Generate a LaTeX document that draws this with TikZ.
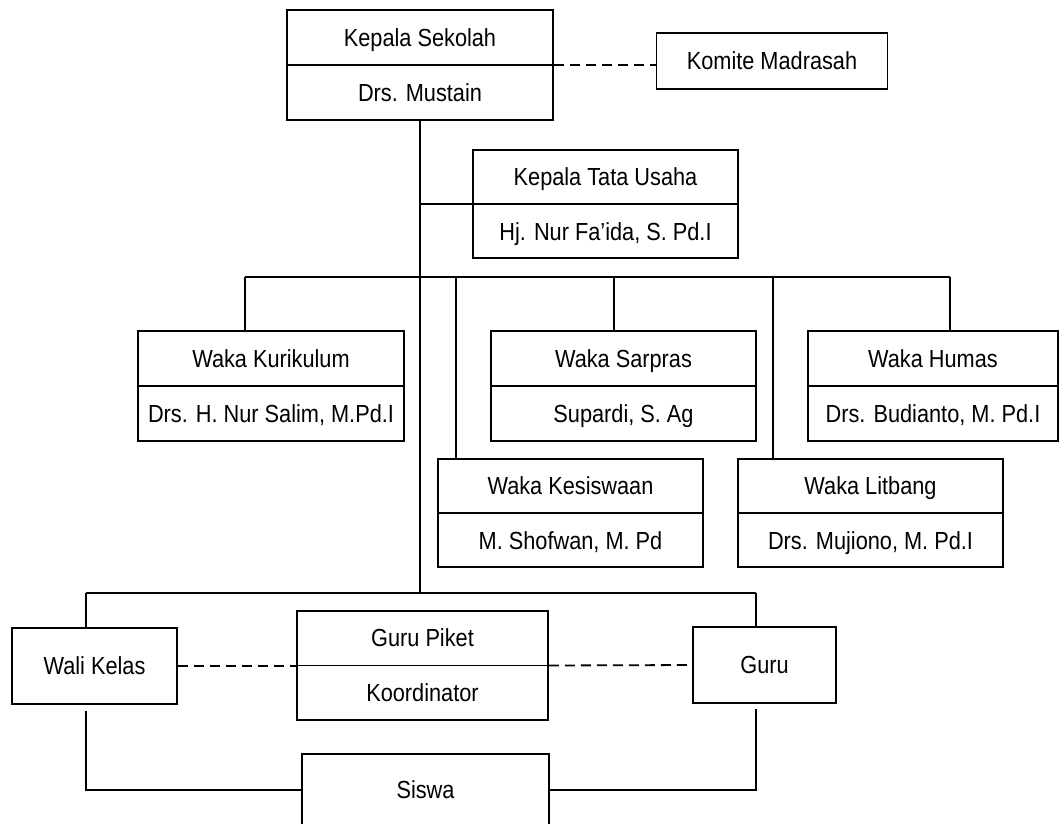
\documentclass[tikz,border=0pt]{standalone}
\usepackage{fontspec}
\setmainfont{Liberation Sans}[FakeStretch=0.88]
\usetikzlibrary{positioning}

\begin{document}
\begin{tikzpicture}[
  x=1pt, y=-1pt,
  line width=1.8pt,
  font=\fontsize{24.7}{55}\selectfont,
  unit/.style={rectangle, draw, align=center, minimum height=76pt, inner sep=0pt},
  post/.style={rectangle, draw, align=center, minimum height=110pt, inner sep=0pt,
    text height=72.8pt, text depth=0pt,
    path picture={\draw (path picture bounding box.west) -- (path picture bounding box.east);}},
  relation/.style={draw, dash pattern=on 10pt off 6pt},
]
\useasboundingbox (0,0) rectangle (1061,824);

\node[post, minimum width=266pt] (kepsek) at (420,65) {Kepala Sekolah\\Drs. Mustain};
\node[unit, minimum width=231pt, minimum height=56pt] (komite) at (772,61) {Komite Madrasah};
\node[post, minimum width=265pt, minimum height=108pt] (tu) at (605.5,204) {Kepala Tata Usaha\\Hj. Nur Fa'ida, S. Pd.I};
\node[post, minimum width=266pt] (kurikulum) at (271,386) {Waka Kurikulum\\Drs. H. Nur Salim, M.Pd.I};
\node[post, minimum width=265pt] (sarpras) at (623.5,386) {Waka Sarpras\\Supardi, S. Ag};
\node[post, minimum width=250pt] (humas) at (933,386) {Waka Humas\\Drs. Budianto, M. Pd.I};
\node[post, minimum width=265pt, minimum height=108pt] (kesiswaan) at (570.5,513) {Waka Kesiswaan\\M. Shofwan, M. Pd};
\node[post, minimum width=265pt, minimum height=108pt] (litbang) at (870.5,513) {Waka Litbang\\Drs. Mujiono, M. Pd.I};
\node[unit, minimum width=165pt] (walikelas) at (94.5,666) {Wali Kelas};
\node[post, minimum width=251pt, minimum height=109pt] (piket) at (422.5,665.5) {Guru Piket\\Koordinator};
\node[unit, minimum width=143pt] (guru) at (764.5,665) {Guru};
\node[unit, minimum width=247pt, minimum height=72pt] (siswa) at (425.5,790) {Siswa};

\coordinate (wakaL) at (245,277);
\coordinate (wakaR) at (950,277);
\coordinate (guruL) at (86,593);
\coordinate (guruR) at (756,593);

\draw (kepsek.south) -- (kepsek.south |- guruL);
\draw[relation] (kepsek.east) -- (kepsek.east -| komite.west);
\draw (kepsek.south |- tu.west) -- (tu.west);
\draw (wakaL) -- (wakaR);
\draw (wakaL) -- (wakaL |- kurikulum.north);
\draw ([xshift=-9.5pt]sarpras.north) -- ([xshift=-9.5pt]sarpras.north |- wakaL);
\draw (wakaR) -- (wakaR |- humas.north);
\draw ([xshift=-114.5pt]kesiswaan.north) -- ([xshift=-114.5pt]kesiswaan.north |- wakaL);
\draw ([xshift=-97.5pt]litbang.north) -- ([xshift=-97.5pt]litbang.north |- wakaL);
\draw (guruL) -- (guruR);
\draw (guruL) -- (guruL |- walikelas.north);
\draw (guruR) -- (guruR |- guru.north);
\draw[relation] (walikelas.east) -- (walikelas.east -| piket.west);
\draw[relation] (piket.east) -- (guru.west);
\draw ([yshift=-6pt]walikelas.south -| guruL) |- (siswa.west);
\draw ([yshift=-5pt]guru.south -| guruR) |- (siswa.east);
\end{tikzpicture}
\end{document}
